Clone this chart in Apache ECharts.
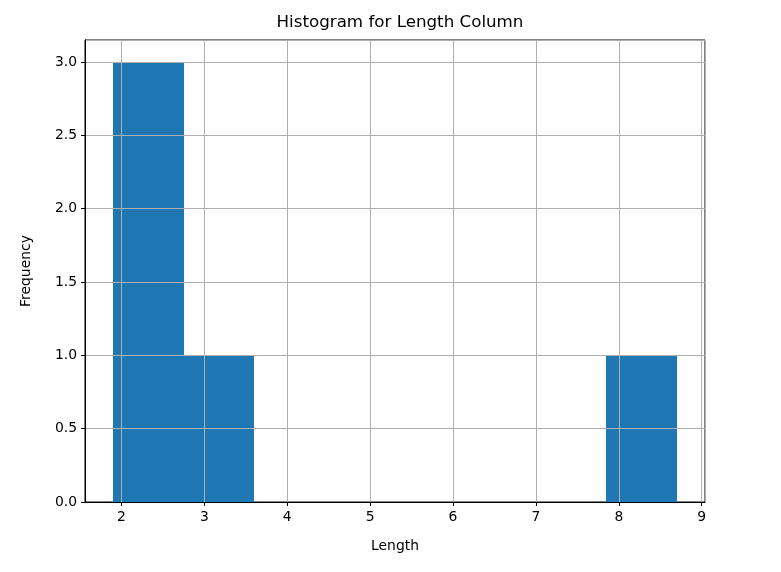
<!DOCTYPE html>
<html><head><meta charset="utf-8">
<script src="https://cdn.jsdelivr.net/npm/echarts@6/dist/echarts.min.js"></script>
<style>html,body{margin:0;padding:0;background:#fff}#c{width:781px;height:572px}</style>
</head><body><div id="c"></div>
<script>
const binEdges = [1.9, 2.75, 3.6, 4.45, 5.3, 6.15, 7.0, 7.85, 8.7];
const counts = [3, 1, 0, 0, 0, 0, 0, 1];
const xTicks = [2, 3, 4, 5, 6, 7, 8, 9];
const yTicks = [0, 0.5, 1.0, 1.5, 2.0, 2.5, 3.0];

const data = counts.map((c, i) => [binEdges[i], binEdges[i + 1], c]);
const font = 'DejaVu Sans';
const chart = echarts.init(document.getElementById('c'), null, {renderer: 'canvas'});
chart.setOption({
  animation: false,
  title: {text: 'Histogram for Length Column', left: 395, textAlign: 'center', top: 9,
    textStyle: {fontFamily: font, fontSize: 16.7, fontWeight: 'normal', color: '#000'}},
  grid: {left: 85, right: 76, top: 40, bottom: 70, show: true, borderColor: '#000', borderWidth: 1, backgroundColor: 'transparent'},
  xAxis: {type: 'value', min: 1.56, max: 9.04, splitNumber: 7, z: 5,
    name: 'Length', nameLocation: 'middle', nameGap: 37,
    nameTextStyle: {fontFamily: font, fontSize: 13.9, color: '#000'},
    axisLine: {show: true, onZero: false, lineStyle: {color: '#000', width: 1}},
    axisTick: {show: true, length: 4, lineStyle: {color: '#000'}},
    axisLabel: {fontFamily: font, fontSize: 13.9, color: '#000', margin: 8, showMinLabel: false, showMaxLabel: false},
    splitLine: {show: true, lineStyle: {color: '#b0b0b0', width: 1}}},
  yAxis: {type: 'value', min: 0, max: 3.15, interval: 0.5, z: 5,
    name: 'Frequency', nameLocation: 'middle', nameGap: 52, nameRotate: 90,
    nameTextStyle: {fontFamily: font, fontSize: 13.9, color: '#000'},
    axisLine: {show: true, lineStyle: {color: '#000', width: 1}},
    axisTick: {show: true, length: 4, lineStyle: {color: '#000'}},
    axisLabel: {fontFamily: font, fontSize: 13.9, color: '#000', margin: 8, showMaxLabel: false,
      formatter: v => v.toFixed(1)},
    splitLine: {show: true, lineStyle: {color: '#b0b0b0', width: 1}}},
  series: [{
    type: 'custom', z: 1,
    renderItem: function (params, api) {
      const p0 = api.coord([api.value(0), 0]);
      const p1 = api.coord([api.value(1), api.value(2)]);
      const x0 = Math.round(p0[0]), x1 = Math.round(p1[0]);
      const y0 = Math.round(p0[1]), y1 = Math.round(p1[1]);
      return {type: 'rect', shape: {x: x0, y: y1, width: x1 - x0, height: y0 - y1},
        style: {fill: '#1f77b4'}};
    },
    encode: {x: [0, 1], y: 2},
    data: data
  }]
});
</script></body></html>
